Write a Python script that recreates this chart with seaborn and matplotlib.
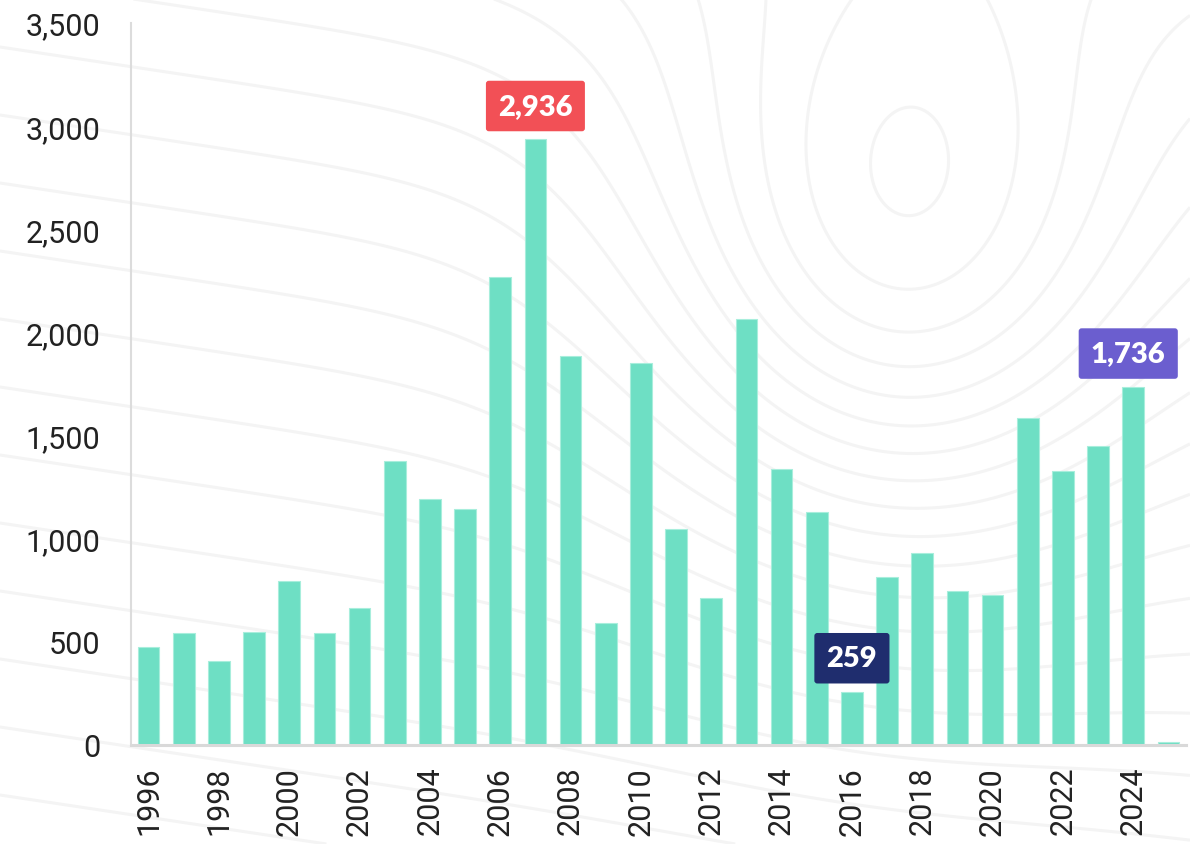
import matplotlib
matplotlib.use("Agg")
import matplotlib.pyplot as plt
import seaborn as sns
import pandas as pd
import numpy as np

years = list(range(1996, 2026))
values = [476, 541, 407, 546, 793, 543, 664, 1378, 1192, 1142,
          2267, 2936, 1885, 590, 1852, 1045, 712, 2063, 1338, 1128,
          259, 813, 929, 745, 727, 1583, 1330, 1451, 1736, 16]
highlight_years = [2007, 2016, 2024]
highlight_colors = ["#F25056", "#1F2D6E", "#6B5ECF"]
highlight_dx = [0, 0, -5]
y_ticks = [0, 500, 1000, 1500, 2000, 2500, 3000, 3500]

bar_color = "#6EDFC4"

sns.set_theme(style="white")
plt.rcParams['font.family'] = ['Roboto', 'DejaVu Sans']

df = pd.DataFrame({"year": [str(y) for y in years], "value": values})

fig = plt.figure(figsize=(11.9, 8.45), dpi=100)

# faint decorative topographic background
bg = fig.add_axes([0, 0, 1, 1], zorder=0)
gx, gy = np.meshgrid(np.linspace(0, 1190, 400), np.linspace(0, 845, 300))
field = (gy - 0.15 * gx) - 520 * np.exp(-(((gx - 900) / 170) ** 2 / 2 + ((gy - 260) / 210) ** 2 / 2))
bg.contour(gx, gy, field, levels=np.arange(-700, 900, 68), colors="#f4f4f4",
           linewidths=2.2, linestyles="solid")
bg.set_xlim(0, 1190)
bg.set_ylim(845, 0)
bg.axis("off")

ax = fig.add_axes([131/1190, 1 - 746/845, (1186-131)/1190, (746-24)/845], zorder=1)
ax.patch.set_alpha(0)

sns.barplot(data=df, x="year", y="value", color=bar_color, width=0.62,
            saturation=1, ax=ax, edgecolor="#a8eedc", linewidth=0.8)

ax.set_xlim(-0.5, len(years) - 0.5)
ax.set_ylim(0, 3500)
ax.set_yticks(y_ticks)
ax.set_yticklabels([f"{v:,}" for v in y_ticks])
ax.set_xticks(range(0, len(years), 2))
ax.set_xticklabels([str(years[i]) for i in range(0, len(years), 2)], rotation=90)
ax.tick_params(axis="y", length=0, pad=22, labelsize=22, labelcolor="#222222")
ax.tick_params(axis="x", length=0, pad=15, labelsize=22, labelcolor="#222222")
ax.set_xlabel("")
ax.set_ylabel("")

for side in ["top", "right"]:
    ax.spines[side].set_visible(False)
ax.spines["left"].set_color("#dcdcdc")
ax.spines["left"].set_linewidth(1.5)
ax.spines["bottom"].set_color("#d9d9d9")
ax.spines["bottom"].set_linewidth(2.2)

for yr, col, dx in zip(highlight_years, highlight_colors, highlight_dx):
    i = years.index(yr)
    v = values[i]
    ax.annotate(f"{v:,}", xy=(i, v), xytext=(dx * 0.72, 24), textcoords="offset points",
                ha="center", va="center", color="white", fontsize=21,
                fontweight="heavy", family=["Lato", "DejaVu Sans"],
                bbox=dict(boxstyle="round,pad=0.42,rounding_size=0.1", facecolor=col, edgecolor="none"),
                annotation_clip=False)

fig.savefig("out.png", dpi=100)
